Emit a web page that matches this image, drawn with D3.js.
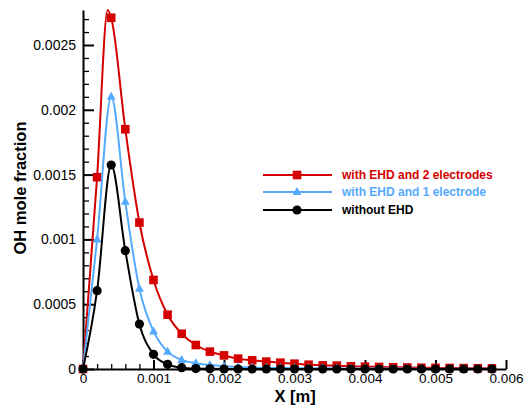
<!DOCTYPE html>
<html>
<head>
<meta charset="utf-8">
<script src="https://cdn.jsdelivr.net/npm/d3@7"></script>
<style>
  body { margin: 0; background: #fff; }
  svg { display: block; font-family: "Liberation Sans", Arial, sans-serif; }
</style>
</head>
<body>
<svg id="chart"></svg>
<script>
// x positions of the markers (m)
const xVals = [0, 0.0002, 0.0004, 0.0006, 0.0008, 0.001, 0.0012, 0.0014, 0.0016, 0.0018,
  0.002, 0.0022, 0.0024, 0.0026, 0.0028, 0.003, 0.0032, 0.0034, 0.0036, 0.0038,
  0.004, 0.0042, 0.0044, 0.0046, 0.0048, 0.005, 0.0052, 0.0054, 0.0056, 0.0058];

// OH mole fraction
const ehd2 = [0, 0.00148, 0.00271, 0.00185, 0.00113, 0.000687, 0.000419, 0.000272, 0.000185, 0.000134,
  0.000105, 0.00008, 0.000067, 0.000057, 0.000049, 0.000041, 0.000033, 0.000028, 0.000026, 0.000021,
  0.000018, 0.000016, 0.000014, 0.000012, 0.00001, 0.000009, 0.000008, 0.000007, 0.000006, 0.000005];
const ehd1 = [0, 0.001, 0.0021, 0.00129, 0.00062, 0.00029, 0.000134, 0.00007, 0.000044, 0.00003,
  0.000021, 0.000016, 0.000012, 0.00001, 0.000008, 0.000007, 0.000006, 0.000005, 0.000005, 0.000004,
  0.000004, 0.000003, 0.000003, 0.000003, 0.000002, 0.000002, 0.000002, 0.000002, 0.000002, 0.000001];
const noEhd = [0, 0.000604, 0.001574, 0.000913, 0.000347, 0.000113, 0.000036, 0.00001, 0.000003, 0.000001,
  0, 0, 0, 0, 0, 0, 0, 0, 0, 0,
  0, 0, 0, 0, 0, 0, 0, 0, 0, 0];
// the red curve peaks a little before its marker
const ehd2Peak = [0.00035, 0.00277];

const xTicks = [0, 0.001, 0.002, 0.003, 0.004, 0.005, 0.006];
const xTickLabels = ["0", "0.001", "0.002", "0.003", "0.004", "0.005", "0.006"];
const yTicks = [0, 0.0005, 0.001, 0.0015, 0.002, 0.0025];
const yTickLabels = ["0", "0.0005", "0.001", "0.0015", "0.002", "0.0025"];

const seriesNames = ["with EHD and 2 electrodes", "with EHD and 1 electrode", "without EHD"];
const seriesColors = ["#d40000", "#55aaff", "#000000"];

const width = 531, height = 405;
const plotLeft = 83, plotRight = 506, plotTop = 10, plotBottom = 369;

const svg = d3.select("#chart").attr("width", width).attr("height", height);

const x = d3.scaleLinear().domain([0, 0.006]).range([plotLeft, plotRight]);
const y = d3.scaleLinear().domain([0, 0.00277]).range([plotBottom, plotTop]);

// minor ticks
const xMinor = d3.range(1, 30).map(i => i * 0.0002).filter(v => Math.abs(v / 0.001 - Math.round(v / 0.001)) > 1e-6);
const yMinor = d3.range(1, 28).map(i => i * 0.0001).filter(v => Math.abs(v / 0.0005 - Math.round(v / 0.0005)) > 1e-6);

svg.append("g")
  .attr("transform", `translate(0,${plotBottom})`)
  .call(d3.axisBottom(x).tickValues(xMinor).tickSize(-5).tickSizeOuter(0).tickFormat(""))
  .call(g => g.select(".domain").remove())
  .selectAll("line").attr("stroke-width", 1.3);

svg.append("g")
  .attr("transform", `translate(${plotLeft},0)`)
  .call(d3.axisLeft(y).tickValues(yMinor).tickSize(-6).tickSizeOuter(0).tickFormat(""))
  .call(g => g.select(".domain").remove())
  .selectAll("line").attr("stroke-width", 1.3);

const xAxis = svg.append("g")
  .attr("transform", `translate(0,${plotBottom})`)
  .call(d3.axisBottom(x).tickValues(xTicks).tickSize(-9).tickSizeOuter(0).tickPadding(4)
    .tickFormat((d, i) => xTickLabels[i]));
xAxis.select(".domain").attr("stroke-width", 2);
xAxis.selectAll("line").attr("stroke-width", 2);
xAxis.selectAll("text").attr("font-size", 13.5).attr("fill", "#000")
  .attr("font-family", "'Liberation Sans', Arial, sans-serif");

const yAxis = svg.append("g")
  .attr("transform", `translate(${plotLeft},0)`)
  .call(d3.axisLeft(y).tickValues(yTicks).tickSize(-11).tickSizeOuter(0).tickPadding(7)
    .tickFormat((d, i) => yTickLabels[i]));
yAxis.select(".domain").attr("stroke-width", 2);
yAxis.selectAll("line").attr("stroke-width", 2);
yAxis.selectAll("text").attr("font-size", 14).attr("fill", "#000")
  .attr("font-family", "'Liberation Sans', Arial, sans-serif");

// axis titles
svg.append("text")
  .attr("transform", `translate(26,188) rotate(-90)`)
  .attr("text-anchor", "middle")
  .attr("font-size", 16.5).attr("font-weight", "bold")
  .text("OH mole fraction");

svg.append("text")
  .attr("x", 295).attr("y", 402)
  .attr("text-anchor", "middle")
  .attr("font-size", 16.5).attr("font-weight", "bold")
  .text("X [m]");

// lines
const line = d3.line().x(d => x(d[0])).y(d => y(d[1])).curve(d3.curveMonotoneX);

const redPts = xVals.map((v, i) => [v, ehd2[i]]);
const redLine = redPts.slice();
redLine.splice(2, 0, ehd2Peak);
const bluePts = xVals.map((v, i) => [v, ehd1[i]]);
const blackPts = xVals.map((v, i) => [v, noEhd[i]]);

const series = [
  { pts: redPts, linePts: redLine, color: seriesColors[0], shape: "square" },
  { pts: bluePts, linePts: bluePts, color: seriesColors[1], shape: "triangle" },
  { pts: blackPts, linePts: blackPts, color: seriesColors[2], shape: "circle" }
];

function drawMarker(g, shape, color) {
  if (shape === "square") {
    g.append("rect").attr("x", -4.3).attr("y", -4.3).attr("width", 8.6).attr("height", 8.6).attr("fill", color);
  } else if (shape === "triangle") {
    g.append("path").attr("d", "M0,-5L4.5,3L-4.5,3Z").attr("fill", color);
  } else {
    g.append("circle").attr("r", 4.6).attr("fill", color);
  }
}

series.forEach(s => {
  svg.append("path")
    .attr("d", line(s.linePts))
    .attr("fill", "none")
    .attr("stroke", s.color)
    .attr("stroke-width", 2);
  s.pts.forEach(p => {
    const g = svg.append("g").attr("transform", `translate(${x(p[0])},${y(p[1])})`);
    drawMarker(g, s.shape, s.color);
  });
});

// legend
const legendY = [175, 192, 210];
series.forEach((s, i) => {
  svg.append("line")
    .attr("x1", 263).attr("x2", 332)
    .attr("y1", legendY[i]).attr("y2", legendY[i])
    .attr("stroke", s.color).attr("stroke-width", 2);
  const g = svg.append("g").attr("transform", `translate(297,${legendY[i]})`);
  drawMarker(g, s.shape, s.color);
  svg.append("text")
    .attr("x", 342).attr("y", legendY[i])
    .attr("dy", "0.35em")
    .attr("font-size", 12).attr("font-weight", "bold")
    .attr("fill", s.color)
    .text(seriesNames[i]);
});
</script>
</body>
</html>
